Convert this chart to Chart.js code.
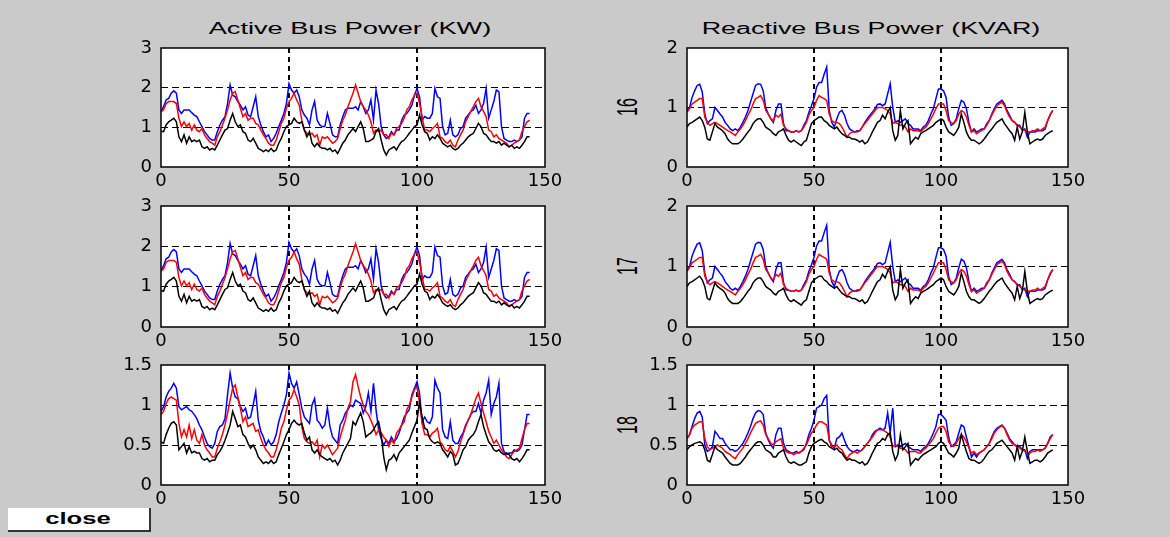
<!DOCTYPE html>
<html>
<head>
<meta charset="utf-8">
<script src="https://cdn.jsdelivr.net/npm/chart.js@4.4.1/dist/chart.umd.min.js"></script>
<style>
    body { margin: 0; width: 1170px; height: 537px; overflow: hidden; background: #cacaca; position: relative; font-family: "Liberation Sans", Arial, sans-serif; }
    canvas { position: absolute; }
    .lbl { position: absolute; white-space: nowrap; color: #000; }
    #close { position: absolute; left: 8px; top: 508px; width: 141px; height: 22px; background: #fff; border-right: 2px solid #333; border-bottom: 2px solid #333; }
    #close span { position: absolute; left: 70px; top: 11px; font-weight: bold; font-size: 16px; transform: translate(-50%, -50%) scaleX(1.6); }
</style>
</head>
<body>

<div class="lbl" style="left:350px;top:29px;font-size:16px;transform:translate(-50%,-50%) scaleX(1.7);">Active Bus Power (KW)</div>
<div class="lbl" style="left:871px;top:29px;font-size:16px;transform:translate(-50%,-50%) scaleX(1.68);">Reactive Bus Power (KVAR)</div>
<div class="lbl" style="left:628px;top:107px;font-size:16px;transform:translate(-50%,-50%) scaleX(1.8) rotate(-90deg);">16</div>
<div class="lbl" style="left:628px;top:266px;font-size:16px;transform:translate(-50%,-50%) scaleX(1.8) rotate(-90deg);">17</div>
<div class="lbl" style="left:628px;top:425px;font-size:16px;transform:translate(-50%,-50%) scaleX(1.8) rotate(-90deg);">18</div>
<div id="close"><span>close</span></div>

<script>
// sample index 0..144
const steps = Array.from({ length: 145 }, (_, i) => i);

const xTicks = [0, 50, 100, 150];
const activeTicks = [0, 1, 2, 3];
const reactiveTicks = [0, 1, 2];
const halfTicks = [0, 0.5, 1, 1.5];

// active power, buses 16 / 17 (same curves)
const activeBlue = [
    1.4,1.52,1.69,1.73,1.86,1.92,1.86,1.44,1.35,1.44,
    1.44,1.44,1.37,1.31,1.27,1.14,1.02,0.89,0.81,0.72,
    0.68,0.68,0.89,1.06,1.18,1.27,1.6,2.07,1.81,1.77,
    1.65,1.56,1.44,1.52,1.31,1.27,1.52,1.77,1.27,1.06,
    0.89,0.76,0.81,0.64,0.72,0.85,1.02,1.18,1.35,1.6,
    2.1,1.94,1.86,1.94,1.77,1.44,1.31,1.23,1.06,1.44,
    1.65,1.18,1.06,1.02,1.02,1.35,1.1,0.81,0.76,0.76,
    1.06,1.27,1.44,1.48,1.48,1.48,1.52,1.44,1.65,1.52,
    1.35,1.44,1.69,1.18,1.94,1.6,1.02,0.81,0.72,0.76,
    0.89,0.81,0.93,0.93,1.18,1.31,1.35,1.44,1.56,1.81,
    1.98,1.77,1.18,1.27,1.23,1.23,1.35,1.98,1.77,1.73,
    1.02,0.81,0.85,1.18,0.81,0.76,0.81,0.97,1.02,1.23,
    1.31,1.4,1.44,1.56,1.35,1.44,1.6,1.98,1.23,1.44,
    1.65,1.94,1.9,1.02,0.72,0.68,0.64,0.64,0.68,0.64,
    0.68,0.76,1.23,1.35,1.35
];
const activeRed = [
    1.39,1.44,1.6,1.65,1.65,1.65,1.6,1.23,1.02,1.14,
    1.02,1.1,0.93,1.06,0.93,0.89,0.97,0.81,0.72,0.64,
    0.6,0.55,0.76,0.89,1.06,1.23,1.44,1.69,1.86,1.9,
    1.69,1.48,1.27,1.35,1.18,1.23,1.23,1.1,1.06,0.93,
    0.81,0.72,0.6,0.55,0.55,0.68,0.89,1.1,1.23,1.48,
    1.65,1.73,1.86,1.69,1.56,1.18,0.93,0.85,0.81,0.85,
    0.76,0.81,0.55,0.76,0.72,0.76,0.68,0.6,0.64,0.72,
    0.97,1.18,1.31,1.52,1.69,1.86,2.07,1.86,1.65,1.52,
    1.44,1.31,1.14,0.85,0.93,0.89,0.93,0.81,0.81,0.72,
    0.85,0.81,0.97,1.02,1.1,1.23,1.44,1.52,1.69,1.81,
    1.86,1.6,1.27,0.93,0.93,0.89,0.97,1.02,1.1,0.76,
    0.72,0.64,0.6,0.68,0.55,0.51,0.68,0.81,0.93,1.14,
    1.27,1.4,1.52,1.65,1.73,1.52,1.4,1.27,0.93,0.89,
    0.76,0.81,0.72,0.68,0.64,0.6,0.51,0.55,0.6,0.64,
    0.68,0.89,1.02,1.14,1.18
];
const activeBlack = [
    0.9,0.89,1.06,1.14,1.18,1.23,1.14,0.76,0.64,0.81,
    0.6,0.76,0.64,0.68,0.64,0.68,0.51,0.47,0.51,0.43,
    0.47,0.43,0.55,0.68,0.81,0.93,0.97,1.18,1.35,1.14,
    1.02,1.06,0.89,0.85,0.68,0.64,0.72,0.6,0.47,0.43,
    0.39,0.43,0.39,0.47,0.39,0.43,0.6,0.72,0.89,1.02,
    1.06,1.1,1.23,1.14,1.1,1.14,0.93,0.76,0.89,0.6,
    0.51,0.6,0.51,0.47,0.47,0.43,0.47,0.39,0.43,0.34,
    0.47,0.6,0.68,0.81,0.89,0.97,0.89,1.02,1.14,0.97,
    0.64,0.64,0.68,0.72,0.89,0.97,0.68,0.43,0.3,0.43,
    0.47,0.51,0.43,0.55,0.64,0.68,0.76,0.85,0.93,1.02,
    1.06,1.31,1.06,0.89,0.85,0.68,0.76,0.72,0.81,0.72,
    0.6,0.55,0.51,0.55,0.47,0.43,0.47,0.55,0.6,0.68,
    0.76,0.81,0.85,0.97,1.1,1.02,0.85,0.81,0.72,0.64,
    0.64,0.6,0.64,0.55,0.6,0.55,0.51,0.55,0.47,0.51,
    0.47,0.55,0.64,0.76,0.76
];

// active power, bus 18
const activeBlue18 = [
    0.92,0.98,1.1,1.17,1.21,1.27,1.21,0.98,0.94,0.96,
    0.98,0.94,0.92,0.88,0.83,0.75,0.69,0.6,0.52,0.48,
    0.46,0.52,0.67,0.73,0.75,0.83,1.13,1.4,1.21,1.1,
    1.08,0.98,0.92,0.96,0.83,0.85,1.0,1.17,0.81,0.67,
    0.6,0.5,0.56,0.5,0.54,0.63,0.79,0.9,1.0,1.13,
    1.4,1.27,1.21,1.29,1.13,0.96,0.85,0.81,0.77,1.0,
    1.08,0.81,0.77,0.71,0.75,0.96,0.73,0.6,0.56,0.52,
    0.75,0.81,0.9,0.94,1.0,0.98,1.06,1.04,1.02,0.9,
    0.98,1.15,0.92,1.27,0.94,0.69,0.58,0.5,0.56,0.52,
    0.6,0.54,0.58,0.65,0.75,0.85,0.9,0.94,1.13,1.21,
    1.29,1.15,0.79,0.85,0.79,0.77,0.85,1.31,1.21,1.15,
    0.69,0.6,0.58,0.79,0.56,0.52,0.52,0.6,0.65,0.75,
    0.81,0.88,0.92,0.92,1.02,0.9,1.06,1.15,1.31,0.88,
    1.02,1.1,1.27,0.52,0.42,0.38,0.4,0.4,0.44,0.42,
    0.44,0.5,0.69,0.88,0.88
];
const activeRed18 = [
    0.88,0.92,1.02,1.08,1.1,1.08,1.06,0.77,0.6,0.69,
    0.6,0.75,0.58,0.69,0.56,0.52,0.63,0.5,0.44,0.4,
    0.35,0.35,0.46,0.54,0.63,0.75,0.9,1.06,1.21,1.25,
    1.1,0.96,0.79,0.85,0.73,0.75,0.77,0.67,0.69,0.58,
    0.5,0.44,0.4,0.35,0.35,0.44,0.56,0.71,0.79,0.94,
    1.06,1.1,1.19,1.1,1.0,0.73,0.58,0.54,0.52,0.54,
    0.5,0.56,0.35,0.5,0.46,0.5,0.44,0.38,0.42,0.46,
    0.6,0.71,0.81,0.96,1.04,1.29,1.38,1.23,1.1,1.0,
    0.92,0.88,0.81,0.73,0.63,0.69,0.65,0.6,0.56,0.48,
    0.56,0.52,0.65,0.69,0.75,0.79,0.94,1.0,1.1,1.19,
    1.23,1.02,0.77,0.63,0.63,0.6,0.65,0.67,0.71,0.54,
    0.5,0.44,0.42,0.48,0.42,0.35,0.42,0.54,0.63,0.73,
    0.81,0.88,0.98,1.08,1.15,1.02,0.9,0.79,0.67,0.6,
    0.52,0.56,0.5,0.44,0.4,0.35,0.33,0.38,0.42,0.44,
    0.46,0.58,0.69,0.77,0.77
];
const activeBlack18 = [
    0.54,0.52,0.63,0.71,0.77,0.79,0.75,0.44,0.48,0.52,
    0.4,0.48,0.4,0.42,0.4,0.4,0.33,0.31,0.33,0.29,
    0.31,0.31,0.38,0.42,0.48,0.56,0.65,0.75,0.92,0.83,
    0.73,0.75,0.63,0.6,0.52,0.46,0.5,0.44,0.35,0.31,
    0.27,0.29,0.27,0.31,0.27,0.29,0.38,0.46,0.54,0.63,
    0.69,0.77,0.81,0.77,0.75,0.77,0.65,0.56,0.6,0.44,
    0.4,0.44,0.38,0.35,0.33,0.31,0.33,0.29,0.31,0.25,
    0.31,0.4,0.46,0.52,0.58,0.79,0.75,0.83,0.9,0.79,
    0.6,0.63,0.65,0.69,0.75,0.79,0.63,0.35,0.19,0.31,
    0.33,0.38,0.31,0.4,0.44,0.48,0.52,0.56,0.65,0.73,
    0.81,1.04,0.85,0.71,0.69,0.58,0.54,0.52,0.54,0.52,
    0.44,0.4,0.35,0.42,0.38,0.25,0.27,0.35,0.44,0.48,
    0.56,0.6,0.63,0.69,0.79,0.88,0.73,0.63,0.54,0.5,
    0.44,0.42,0.44,0.4,0.38,0.4,0.38,0.33,0.31,0.33,
    0.29,0.33,0.38,0.44,0.44
];

// reactive power, buses 16 / 17 (same curves)
const reactiveBlue = [
    0.95,1.0,1.17,1.28,1.37,1.39,1.26,0.89,0.73,0.78,
    0.81,1.0,0.95,0.89,0.84,0.75,0.7,0.64,0.61,0.64,
    0.61,0.67,0.75,0.84,0.95,1.09,1.23,1.37,1.4,1.39,
    1.28,1.0,0.89,0.81,0.75,0.95,1.06,1.06,0.73,0.61,
    0.61,0.59,0.59,0.61,0.59,0.61,0.7,0.78,0.92,1.03,
    1.15,1.34,1.42,1.42,1.56,1.68,0.95,0.75,0.67,0.81,
    0.92,0.95,0.87,0.73,0.64,0.61,0.59,0.61,0.61,0.67,
    0.75,0.81,0.87,0.92,0.98,1.05,1.06,1.03,1.06,1.23,
    1.4,1.0,0.75,0.78,0.75,0.78,0.81,0.73,0.7,0.64,
    0.64,0.64,0.61,0.67,0.7,0.78,0.89,0.98,1.15,1.31,
    1.31,1.28,1.17,0.84,0.7,0.73,0.81,0.98,1.12,1.09,
    0.98,0.75,0.59,0.64,0.59,0.61,0.64,0.64,0.73,0.78,
    0.89,0.98,1.06,1.09,1.12,1.06,0.95,0.87,0.78,0.75,
    0.7,0.7,0.61,0.64,0.5,0.59,0.59,0.59,0.61,0.61,
    0.61,0.64,0.78,0.87,0.95
];
const reactiveRed = [
    0.92,0.98,1.06,1.09,1.12,1.15,1.15,0.84,0.75,0.7,
    0.73,0.75,0.73,0.7,0.67,0.64,0.61,0.59,0.56,0.53,
    0.59,0.64,0.7,0.78,0.87,0.95,1.06,1.15,1.17,1.2,
    1.12,0.95,0.89,0.81,0.78,0.87,0.84,0.89,0.7,0.64,
    0.61,0.59,0.59,0.61,0.59,0.61,0.67,0.75,0.87,0.95,
    1.0,1.12,1.2,1.17,1.15,1.12,0.89,0.78,0.75,0.75,
    0.73,0.67,0.59,0.5,0.56,0.59,0.59,0.59,0.61,0.67,
    0.73,0.78,0.84,0.89,0.95,1.0,1.0,1.0,0.98,0.95,
    0.89,0.73,0.75,0.73,0.7,0.7,0.67,0.59,0.64,0.61,
    0.61,0.61,0.59,0.64,0.67,0.73,0.81,0.89,0.98,1.06,
    1.06,1.06,0.95,0.78,0.75,0.73,0.78,0.89,0.95,0.92,
    0.84,0.7,0.59,0.61,0.56,0.59,0.61,0.64,0.7,0.78,
    0.87,0.95,1.03,1.06,1.09,1.03,0.92,0.84,0.78,0.75,
    0.7,0.67,0.64,0.61,0.59,0.59,0.61,0.61,0.64,0.61,
    0.64,0.67,0.78,0.89,0.95
];
const reactiveBlack = [
    0.67,0.73,0.75,0.78,0.81,0.84,0.78,0.67,0.47,0.45,
    0.59,0.73,0.67,0.64,0.61,0.56,0.47,0.42,0.39,0.39,
    0.39,0.42,0.47,0.53,0.59,0.64,0.73,0.78,0.81,0.81,
    0.75,0.67,0.64,0.61,0.56,0.53,0.59,0.61,0.64,0.53,
    0.45,0.42,0.45,0.42,0.39,0.36,0.42,0.45,0.59,0.73,
    0.78,0.81,0.84,0.84,0.78,0.75,0.7,0.67,0.64,0.67,
    0.61,0.56,0.53,0.5,0.5,0.47,0.47,0.45,0.42,0.45,
    0.39,0.42,0.5,0.59,0.67,0.75,0.78,0.87,0.81,0.92,
    1.0,0.61,0.45,0.53,0.95,0.64,0.73,0.78,0.39,0.45,
    0.5,0.47,0.56,0.59,0.61,0.64,0.67,0.7,0.75,0.78,
    0.81,0.78,0.67,0.59,0.56,0.53,0.59,0.67,0.89,0.75,
    0.59,0.5,0.45,0.45,0.42,0.39,0.42,0.47,0.53,0.59,
    0.64,0.7,0.75,0.78,0.81,0.73,0.67,0.61,0.56,0.45,
    0.67,0.47,0.59,0.92,0.59,0.39,0.42,0.45,0.47,0.45,
    0.47,0.53,0.56,0.59,0.61
];

// reactive power, bus 18
const reactiveBlue18 = [
    0.58,0.63,0.73,0.83,0.9,0.92,0.85,0.5,0.42,0.44,
    0.48,0.67,0.63,0.58,0.58,0.52,0.48,0.44,0.44,0.42,
    0.44,0.48,0.52,0.58,0.65,0.73,0.83,0.9,0.93,0.92,
    0.88,0.65,0.56,0.5,0.46,0.63,0.71,0.71,0.52,0.44,
    0.42,0.4,0.4,0.42,0.4,0.42,0.44,0.52,0.63,0.71,
    0.81,0.96,0.98,1.0,1.08,1.12,0.56,0.5,0.46,0.58,
    0.6,0.65,0.56,0.48,0.44,0.42,0.42,0.44,0.42,0.44,
    0.48,0.52,0.56,0.63,0.67,0.69,0.71,0.69,0.71,0.9,
    0.65,0.96,0.48,0.5,0.48,0.5,0.52,0.48,0.46,0.44,
    0.44,0.44,0.42,0.46,0.48,0.52,0.58,0.65,0.73,0.88,
    0.88,0.85,0.81,0.6,0.48,0.5,0.54,0.65,0.75,0.73,
    0.6,0.48,0.35,0.4,0.35,0.4,0.42,0.44,0.48,0.52,
    0.6,0.67,0.71,0.73,0.75,0.71,0.65,0.58,0.54,0.5,
    0.48,0.48,0.44,0.44,0.33,0.42,0.44,0.44,0.44,0.44,
    0.44,0.46,0.52,0.6,0.63
];
const reactiveRed18 = [
    0.58,0.63,0.71,0.75,0.77,0.79,0.79,0.58,0.48,0.44,
    0.46,0.48,0.5,0.48,0.46,0.42,0.4,0.38,0.35,0.33,
    0.38,0.42,0.46,0.52,0.58,0.65,0.71,0.77,0.79,0.8,
    0.75,0.63,0.58,0.52,0.5,0.54,0.56,0.58,0.46,0.42,
    0.4,0.4,0.38,0.4,0.4,0.42,0.46,0.5,0.58,0.65,
    0.69,0.75,0.79,0.79,0.77,0.75,0.56,0.48,0.48,0.5,
    0.46,0.44,0.38,0.33,0.38,0.4,0.42,0.4,0.42,0.44,
    0.48,0.52,0.56,0.6,0.65,0.69,0.69,0.69,0.67,0.65,
    0.6,0.48,0.5,0.48,0.46,0.46,0.44,0.4,0.42,0.42,
    0.42,0.4,0.4,0.44,0.46,0.5,0.54,0.58,0.65,0.71,
    0.73,0.73,0.67,0.54,0.5,0.48,0.52,0.58,0.63,0.6,
    0.54,0.46,0.4,0.42,0.38,0.4,0.42,0.44,0.48,0.52,
    0.58,0.65,0.69,0.72,0.74,0.71,0.63,0.56,0.52,0.5,
    0.48,0.46,0.44,0.42,0.4,0.4,0.42,0.42,0.44,0.42,
    0.44,0.46,0.52,0.58,0.63
];
const reactiveBlack18 = [
    0.44,0.48,0.5,0.52,0.53,0.54,0.52,0.44,0.31,0.29,
    0.38,0.48,0.44,0.42,0.4,0.35,0.31,0.27,0.25,0.25,
    0.25,0.27,0.31,0.35,0.4,0.44,0.48,0.52,0.54,0.54,
    0.5,0.44,0.42,0.4,0.35,0.35,0.4,0.42,0.44,0.35,
    0.29,0.27,0.29,0.27,0.25,0.25,0.27,0.29,0.4,0.48,
    0.52,0.54,0.56,0.57,0.54,0.52,0.48,0.46,0.44,0.46,
    0.42,0.4,0.35,0.31,0.33,0.31,0.31,0.29,0.27,0.29,
    0.25,0.27,0.33,0.4,0.46,0.52,0.54,0.58,0.56,0.63,
    0.65,0.42,0.31,0.38,0.63,0.44,0.48,0.52,0.25,0.29,
    0.33,0.31,0.35,0.38,0.4,0.42,0.44,0.46,0.48,0.52,
    0.54,0.52,0.46,0.4,0.38,0.35,0.4,0.46,0.63,0.52,
    0.42,0.33,0.31,0.31,0.29,0.27,0.29,0.33,0.38,0.42,
    0.44,0.48,0.52,0.54,0.56,0.52,0.48,0.44,0.4,0.31,
    0.48,0.33,0.42,0.6,0.42,0.27,0.29,0.31,0.31,0.29,
    0.31,0.35,0.4,0.42,0.44
];

const lineColors = ['#000000', '#ff0000', '#0000ff'];

// white plot box with black frame
const framePlugin = {
    id: 'frame',
    beforeDraw(chart) {
        const a = chart.chartArea;
        const ctx = chart.ctx;
        ctx.save();
        ctx.fillStyle = '#ffffff';
        ctx.fillRect(a.left, a.top, a.right - a.left, a.bottom - a.top);
        ctx.restore();
    },
    afterDraw(chart) {
        const a = chart.chartArea;
        const ctx = chart.ctx;
        ctx.save();
        ctx.strokeStyle = '#000';
        ctx.lineWidth = 1.5;
        ctx.strokeRect(a.left, a.top, a.right - a.left, a.bottom - a.top);
        ctx.restore();
    }
};

function innerOnly(list) {
    return c => (c.index > 0 && c.index < list.length - 1) ? '#000000' : 'rgba(0,0,0,0)';
}

function makePanel(p) {
    const cv = document.createElement('canvas');
    cv.width = p.w + 100;
    cv.height = p.h + 44;
    cv.style.left = (p.left - 70) + 'px';
    cv.style.top = (p.top - 12) + 'px';
    document.body.appendChild(cv);

    const tickFont = { family: 'DejaVu Sans', size: 18 };

    return new Chart(cv.getContext('2d'), {
        type: 'line',
        data: {
            labels: steps,
            datasets: p.series.map((d, i) => ({
                data: d,
                borderColor: lineColors[i],
                borderWidth: 1.5,
                pointRadius: 0,
                fill: false,
                tension: 0
            }))
        },
        options: {
            responsive: false,
            animation: false,
            devicePixelRatio: 1,
            layout: { padding: { top: 12, right: 30, left: 0, bottom: 0 } },
            plugins: { legend: { display: false }, tooltip: { enabled: false } },
            scales: {
                x: {
                    type: 'linear',
                    min: 0,
                    max: 150,
                    afterBuildTicks: s => { s.ticks = xTicks.map(v => ({ value: v })); },
                    afterFit: s => { s.height = 32; s.paddingLeft = 0; s.paddingRight = 0; },
                    ticks: { autoSkip: false, maxRotation: 0, padding: 4, color: '#000', font: tickFont, callback: v => String(v) },
                    grid: { drawTicks: false, lineWidth: 2, color: innerOnly(xTicks) },
                    border: { display: false, dash: [5, 4] }
                },
                y: {
                    min: 0,
                    max: p.ticks[p.ticks.length - 1],
                    afterBuildTicks: s => { s.ticks = p.ticks.map(v => ({ value: v })); },
                    afterFit: s => { s.width = 70; s.paddingTop = 0; s.paddingBottom = 0; },
                    ticks: { padding: 9, color: '#000', font: tickFont, callback: v => String(v) },
                    grid: { drawTicks: false, lineWidth: 1, color: innerOnly(p.ticks) },
                    border: { display: false, dash: [7, 4] }
                }
            }
        },
        plugins: [framePlugin]
    });
}

const panels = [
    { left: 161, top: 48,  w: 384, h: 119, ticks: activeTicks,   series: [activeBlack, activeRed, activeBlue] },
    { left: 161, top: 206, w: 384, h: 121, ticks: activeTicks,   series: [activeBlack, activeRed, activeBlue] },
    { left: 161, top: 365, w: 384, h: 120, ticks: halfTicks,     series: [activeBlack18, activeRed18, activeBlue18] },
    { left: 687, top: 48,  w: 381, h: 119, ticks: reactiveTicks, series: [reactiveBlack, reactiveRed, reactiveBlue] },
    { left: 687, top: 206, w: 381, h: 121, ticks: reactiveTicks, series: [reactiveBlack, reactiveRed, reactiveBlue] },
    { left: 687, top: 365, w: 381, h: 120, ticks: halfTicks,     series: [reactiveBlack18, reactiveRed18, reactiveBlue18] }
];

panels.forEach(makePanel);
</script>
</body>
</html>
